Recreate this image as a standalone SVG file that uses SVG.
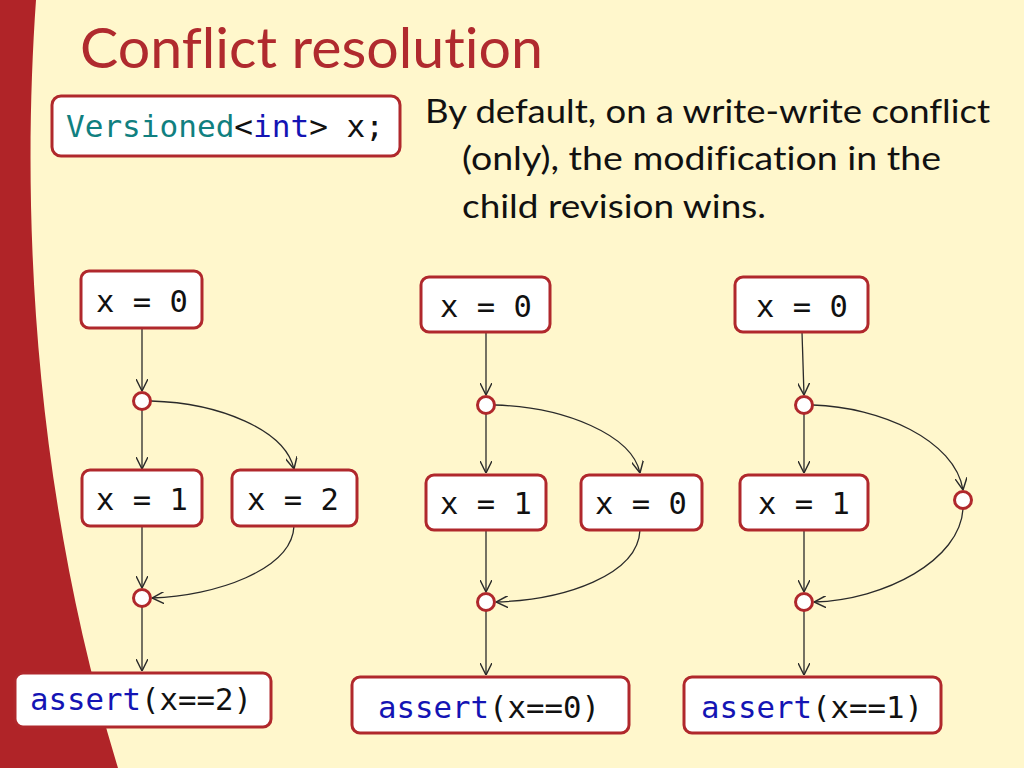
<svg xmlns="http://www.w3.org/2000/svg" width="1024" height="768" viewBox="0 0 1024 768">
<defs>
<marker id="arr" markerUnits="userSpaceOnUse" markerWidth="12" markerHeight="12" viewBox="0 0 10 10" refX="10" refY="5" orient="auto">
<path d="M0,0 L10,5 L0,10" fill="none" stroke="#2a2a2a" stroke-width="1.2"/>
</marker>
<style>
.box{fill:#fff;stroke:#b0282c;stroke-width:3}
.dot{fill:#fff;stroke:#b0282c;stroke-width:3}
.code{font-family:"DejaVu Sans Mono","Liberation Mono",monospace;font-size:30.5px;fill:#111}
.kw{fill:#1414b4}
.ty{fill:#108080}
.body{font-family:"Lato","Noto Sans",sans-serif;font-size:33px;fill:#111;font-variant-ligatures:none}
.title{font-family:"Lato","Noto Sans",sans-serif;font-size:56px;fill:#b02a2e;font-variant-ligatures:none}
.con{fill:none;stroke:#2a2a2a;stroke-width:1.3;marker-end:url(#arr)}
</style>
</defs>
<rect width="1024" height="768" fill="#fff7cc"/>
<path d="M0,0 L36,0 C22,200 30,480 118,768 L0,768 Z" fill="#b02428"/>
<text class="title" x="80" y="68" textLength="463" lengthAdjust="spacingAndGlyphs">Conflict resolution</text>

<g id="decl">
<rect class="box" x="52" y="96" width="348" height="60" rx="9"/>
<text class="code" x="66" y="137" textLength="318" lengthAdjust="spacingAndGlyphs"><tspan class="ty">Versioned</tspan>&lt;<tspan class="kw">int</tspan>&gt; x;</text>
</g>
<g id="desc">
<text class="body" x="425" y="123" textLength="565" lengthAdjust="spacingAndGlyphs">By default, on a write-write conflict</text>
<text class="body" x="462" y="170" textLength="479" lengthAdjust="spacingAndGlyphs">(only), the modification in the</text>
<text class="body" x="462" y="218" textLength="304" lengthAdjust="spacingAndGlyphs">child revision wins.</text>
</g>

<g id="connectors">
<!-- column 1 -->
<path class="con" d="M142,328 L142,391"/>
<path class="con" d="M142,410 L142,469"/>
<path class="con" d="M151,401 C220,403 285,430 294,469"/>
<path class="con" d="M142,526 L142,588"/>
<path class="con" d="M294,526 C292,570 215,596 152,598"/>
<path class="con" d="M142,607 L142,671"/>
<!-- column 2 -->
<path class="con" d="M486,332 L486,395"/>
<path class="con" d="M486,414 L486,473"/>
<path class="con" d="M495,405 C565,407 632,435 640,473"/>
<path class="con" d="M486,530 L486,592"/>
<path class="con" d="M640,530 C638,575 565,600 496,602"/>
<path class="con" d="M486,611 L486,675"/>
<!-- column 3 -->
<path class="con" d="M802,332 L804,395"/>
<path class="con" d="M804,414 L804,473"/>
<path class="con" d="M813,405 C880,407 955,440 963,490"/>
<path class="con" d="M804,530 L804,592"/>
<path class="con" d="M963,509 C960,560 885,600 814,602"/>
<path class="con" d="M804,611 L804,675"/>
</g>

<!-- column 1 nodes -->
<g id="c1_x0"><rect class="box" x="81" y="271" width="121" height="57" rx="8"/><text class="code" x="96" y="312">x = 0</text></g>
<g id="c1_fork"><circle class="dot" cx="142" cy="401" r="8.5"/></g>
<g id="c1_x1"><rect class="box" x="82" y="470" width="120" height="56" rx="8"/><text class="code" x="96" y="510">x = 1</text></g>
<g id="c1_x2"><rect class="box" x="232" y="470" width="125" height="56" rx="8"/><text class="code" x="247" y="510">x = 2</text></g>
<g id="c1_join"><circle class="dot" cx="142" cy="598" r="8.5"/></g>
<g id="c1_assert"><rect class="box" x="15" y="673" width="256" height="54" rx="8"/><text class="code" x="30" y="710" textLength="222" lengthAdjust="spacingAndGlyphs"><tspan class="kw">assert</tspan>(x==2)</text></g>

<!-- column 2 nodes -->
<g id="c2_x0"><rect class="box" x="421" y="277" width="129" height="55" rx="8"/><text class="code" x="440" y="317">x = 0</text></g>
<g id="c2_fork"><circle class="dot" cx="486" cy="405" r="8.5"/></g>
<g id="c2_x1"><rect class="box" x="426" y="475" width="120" height="55" rx="8"/><text class="code" x="440" y="514">x = 1</text></g>
<g id="c2_x0b"><rect class="box" x="581" y="475" width="121" height="55" rx="8"/><text class="code" x="595" y="514">x = 0</text></g>
<g id="c2_join"><circle class="dot" cx="486" cy="602" r="8.5"/></g>
<g id="c2_assert"><rect class="box" x="352" y="677" width="277" height="56" rx="8"/><text class="code" x="378" y="718" textLength="222" lengthAdjust="spacingAndGlyphs"><tspan class="kw">assert</tspan>(x==0)</text></g>

<!-- column 3 nodes -->
<g id="c3_x0"><rect class="box" x="735" y="277" width="133" height="55" rx="8"/><text class="code" x="756" y="317">x = 0</text></g>
<g id="c3_fork"><circle class="dot" cx="804" cy="405" r="8.5"/></g>
<g id="c3_x1"><rect class="box" x="740" y="475" width="128" height="55" rx="8"/><text class="code" x="758" y="514">x = 1</text></g>
<g id="c3_branch"><circle class="dot" cx="963" cy="500" r="8.5"/></g>
<g id="c3_join"><circle class="dot" cx="804" cy="602" r="8.5"/></g>
<g id="c3_assert"><rect class="box" x="684" y="677" width="257" height="56" rx="8"/><text class="code" x="701" y="718" textLength="222" lengthAdjust="spacingAndGlyphs"><tspan class="kw">assert</tspan>(x==1)</text></g>
</svg>
